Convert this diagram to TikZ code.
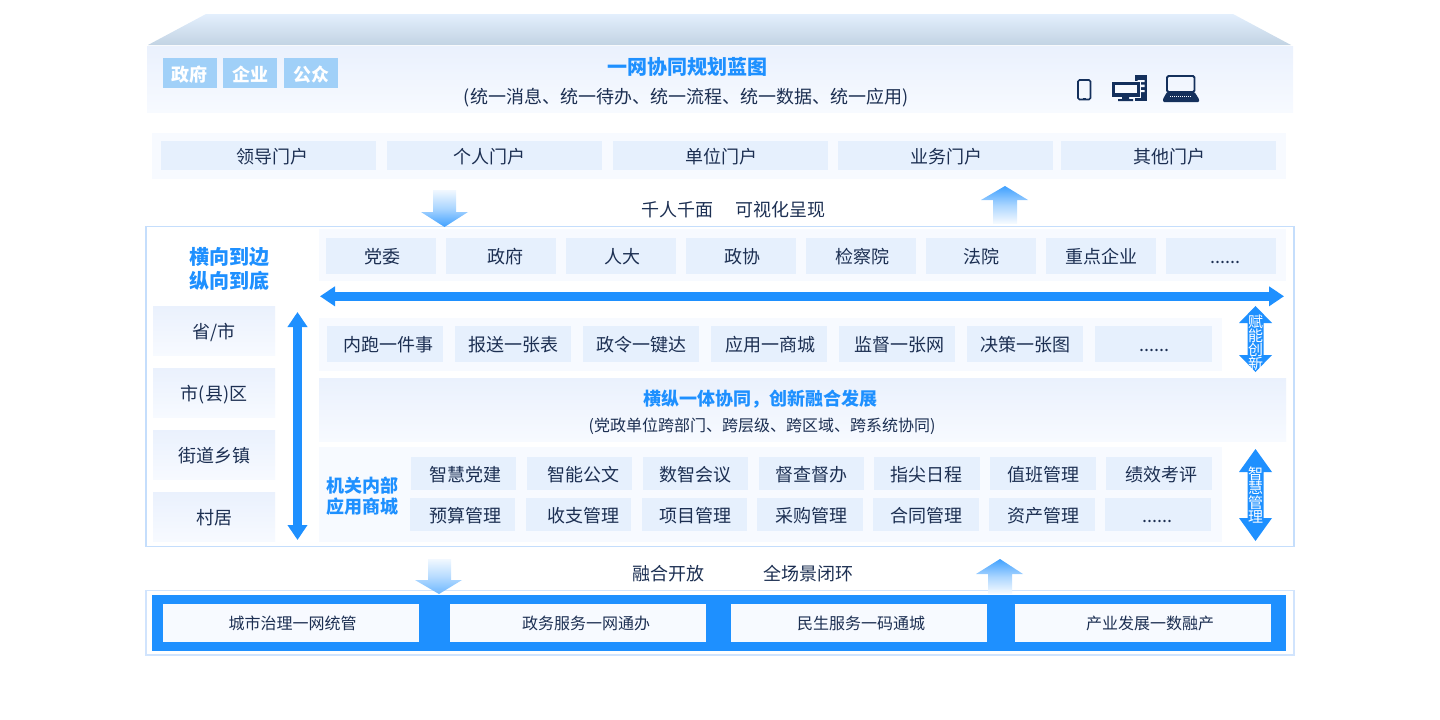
\documentclass[tikz,border=0pt]{standalone}
\usepackage{fontspec}
\setmainfont{Noto Sans CJK SC}
\usetikzlibrary{calc, arrows.meta}

\definecolor{inkblue}{HTML}{1C2F52}
\definecolor{iconblue}{HTML}{14305C}
\definecolor{mainblue}{HTML}{1E90FF}
\definecolor{cellblue}{HTML}{E6F0FD}
\definecolor{stripblue}{HTML}{F7FAFF}
\definecolor{bandblue}{HTML}{EAF1FD}
\definecolor{frameblue}{HTML}{C5DEFC}
\definecolor{tagblue}{HTML}{A0D0F8}
\definecolor{rooftop}{HTML}{E3EFFD}
\definecolor{roofbase}{HTML}{C2D3E3}
\newcommand{\moredots}{......}

\tikzset{
  cell/.style={fill=cellblue, inner sep=0pt, text=inkblue, text height=17pt, text depth=1.4pt, font=\fontsize{18}{20}\selectfont},
  whitecell/.style={fill=stripblue, inner sep=0pt, text=inkblue, text height=15pt, text depth=1.4pt, font=\fontsize{16}{18}\selectfont, minimum width=256pt, minimum height=38pt},
  levelcell/.style={top color=bandblue, bottom color=stripblue, inner sep=0pt, text=inkblue, text height=17.5pt, text depth=0.9pt, font=\fontsize{18}{20}\selectfont, minimum width=122pt, minimum height=49pt},
  tagcell/.style={fill=tagblue, inner sep=0pt, text=white, text height=17.5pt, text depth=0.9pt, font=\fontsize{18}{20}\selectfont\bfseries, minimum width=54pt, minimum height=30pt},
  plain/.style={inner sep=0pt, text=inkblue, text height=17pt, text depth=1.4pt, font=\fontsize{18}{20}\selectfont},
  smallplain/.style={inner sep=0pt, text=inkblue, text height=15pt, text depth=1.4pt, font=\fontsize{16}{18}\selectfont},
  headline/.style={inner sep=0pt, text=mainblue, font=\fontsize{18}{21}\selectfont\bfseries, align=center},
  sidetext/.style={inner sep=0pt, text=white, font=\fontsize{15}{14.1}\selectfont, align=center},
  bigarrow/.style={draw=mainblue, line width=9.5pt, {Triangle[length=15pt,width=19pt]}-{Triangle[length=15pt,width=19pt]}},
}

\begin{document}
\begin{tikzpicture}[x=1pt, y=-1pt]
  \useasboundingbox (0,0) rectangle (1440,720);
  % roof
  \shade[top color=rooftop, bottom color=roofbase] (206,14) -- (1233,14) -- (1291,45) -- (148,45) -- cycle;
  \shade[top color=bandblue, bottom color=stripblue] (147,46) rectangle (1293,112);
  \node[tagcell] (tagGov) at (189.5,73) {政府};
  \node[tagcell] (tagFirm) at (250,73) {企业};
  \node[tagcell] (tagPublic) at (311,73) {公众};
  \node[headline, font=\fontsize{20}{24}\selectfont\bfseries] (blueprint) at (687,66.5) {一网协同规划蓝图};
  \node[plain] (blueprintSub) at (686,95.5) {(统一消息、统一待办、统一流程、统一数据、统一应用)};
  % phone
  \draw[iconblue, line width=1.6pt, rounded corners=1.5pt] (1078,80) rectangle (1090.5,99.5);
  \draw[iconblue, line width=1pt] (1082.5,98.4) -- (1086,98.4);
  % desktop
  \fill[iconblue] (1135,75) rectangle (1147,101);
  \fill[stripblue] (1137.5,80) rectangle (1144.5,82) (1137.5,84.5) rectangle (1144.5,87) (1141,90) rectangle (1144.5,92);
  \draw[stripblue, fill=iconblue, line width=1pt] (1111,81) rectangle (1140,97);
  \fill[stripblue] (1115,84.5) rectangle (1137,93);
  \fill[iconblue] (1122,97) rectangle (1129,99) (1118,99) rectangle (1133,101);
  % laptop
  \draw[iconblue, line width=1.8pt, rounded corners=1.5pt] (1167,76) rectangle (1194.5,92);
  \fill[iconblue, rounded corners=1pt] (1167,92) -- (1194.5,92) -- (1199,99) -- (1199,102) -- (1163,102) -- (1163,99) -- cycle;
  \draw[stripblue, line width=1pt, densely dotted] (1170,96.5) -- (1192,96.5);
  % portals
  \fill[stripblue] (152,133) rectangle (1286,179);
  \foreach \name/\xc/\tx/\txt in {pa/268.5/272.5/领导门户, pb/494.5/489/个人门户, pc/720/721/单位门户, pd/945.5/946/业务门户, pe/1168.5/1169/其他门户} {
    \pgfmathsetmacro{\off}{2*(\tx-\xc)}
    \node[cell, minimum width=215pt, minimum height=29pt] (\name) at (\xc,155.5) {\hspace*{\off pt}\txt};
  }
  \node[plain] (faces) at (677,209) {千人千面};
  \node[plain] (visual) at (780,209) {可视化呈现};
  % main frame
  \draw[frameblue, fill=white, line width=1.3pt] (146,226.5) rectangle (1294,546.5);
  \fill[stripblue] (319,229) rectangle (1286,281);
  \foreach \name/\xc/\tx/\txt in {oa/381/382/党委, ob/501/505/政府, oc/621/622/人大, od/741/742/政协, oe/861/862/检察院, of/981/981/法院, og/1101/1101.5/重点企业, oh/1221/1225/\moredots} {
    \pgfmathsetmacro{\off}{2*(\tx-\xc)}
    \node[cell, minimum width=110pt, minimum height=36pt] (\name) at (\xc,256) {\hspace*{\off pt}\txt};
  }
  \node[headline, font=\fontsize{20}{24}\selectfont\bfseries] (reach) at (229,268.5) {横向到边\\纵向到底};
  \foreach \name/\yc/\txt in {la/330.5/{省/市}, lb/392.5/市(县)区, lc/454.5/街道乡镇, ld/516.5/村居}
    \node[levelcell] (\name) at (214,\yc) {\txt};
  \coordinate (hl) at (320,296.3);
  \coordinate (hr) at (1284,296.3);
  \coordinate (vt) at (297.5,312);
  \coordinate (vb) at (297.5,540);
  \draw[bigarrow] (hl) -- (hr);
  \draw[bigarrow] (vt) -- (vb);
  % services
  \fill[stripblue] (319,318) rectangle (1222,371);
  \foreach \name/\xc/\tx/\txt in {sa/385/388/内跑一件事, sb/513/513/报送一张表, sc/641/641/政令一键达, sd/769/770/应用一商城, se/897/899/监督一张网, sf/1025/1025/决策一张图, sg/1153.5/1154.5/\moredots} {
    \pgfmathsetmacro{\off}{2*(\tx-\xc)}
    \node[cell, minimum width=116.5pt, minimum height=36pt] (\name) at (\xc,344) {\hspace*{\off pt}\txt};
  }
  % band
  \shade[top color=bandblue, bottom color=stripblue] (319,378) rectangle (1286,441);
  \node[headline] (bandTitle) at (760,399.5) {横纵一体协同，创新融合发展};
  \node[smallplain] (bandSub) at (762,425) {(党政单位跨部门、跨层级、跨区域、跨系统协同)};
  % inner apps
  \fill[stripblue] (319,447) rectangle (1222,542);
  \node[headline] (innerApps) at (362,496.3) {机关内部\\应用商城};
  \foreach \name/\xc/\tx/\txt in {ra/463.5/465/智慧党建, rb/579.5/583.5/智能公文, rc/695.5/695/数智会议, rd/811.5/811/督查督办, re/927/926/指尖日程, rf/1043/1043/值班管理, rg/1159/1161/绩效考评} {
    \pgfmathsetmacro{\off}{2*(\tx-\xc)}
    \node[cell, minimum width=105.5pt, minimum height=33pt] (\name) at (\xc,473.5) {\hspace*{\off pt}\txt};
  }
  \foreach \name/\xc/\tx/\txt in {ta/462.5/465/预算管理, tb/578.5/583.5/收支管理, tc/694.5/695/项目管理, td/810/811/采购管理, te/926/926/合同管理, tf/1042/1043/资产管理, tg/1158/1157/\moredots} {
    \pgfmathsetmacro{\off}{2*(\tx-\xc)}
    \node[cell, minimum width=105.5pt, minimum height=33pt] (\name) at (\xc,514.5) {\hspace*{\off pt}\txt};
  }
  % side arrows
  \fill[mainblue] (1255.5,306) -- (1272,323) -- (1263.5,323) -- (1263.5,355) -- (1272,355) -- (1255.5,372) -- (1239,355) -- (1247.5,355) -- (1247.5,323) -- (1239,323) -- cycle;
  \node[sidetext] (enable) at (1255.5,343) {赋\\能\\创\\新};
  \fill[mainblue] (1255.5,449) -- (1272,472) -- (1263.5,472) -- (1263.5,518) -- (1272,518) -- (1255.5,541) -- (1239,518) -- (1247.5,518) -- (1247.5,472) -- (1239,472) -- cycle;
  \node[sidetext] (manage) at (1255.5,495) {智\\慧\\管\\理};
  % bottom frame
  \node[plain] (fusion) at (668,573) {融合开放};
  \node[plain] (closed) at (808,573) {全场景闭环};
  \draw[frameblue!80!white, fill=white, line width=1.3pt] (146,590.5) rectangle (1294,655);
  \fill[mainblue] (152,595) rectangle (1286,651);
  \foreach \name/\xc/\tx/\txt in {ba/291/292.5/城市治理一网统管, bb/578/586/政务服务一网通办, bc/859/861/民生服务一码通城, bd/1142.5/1150/产业发展一数融产} {
    \pgfmathsetmacro{\off}{2*(\tx-\xc)}
    \node[whitecell] (\name) at (\xc,623) {\hspace*{\off pt}\txt};
  }
  % gradient arrows
  \shade[top color=mainblue!6!white, bottom color=mainblue!85!white, middle color=mainblue!38!white] (433,190) -- (456,190) -- (456,212) -- (468,212) -- (444.5,227) -- (421,212) -- (433,212) -- cycle;
  \shade[top color=mainblue!85!white, bottom color=mainblue!3!white, middle color=mainblue!38!white] (1005,186) -- (1028,200) -- (1017,200) -- (1017,224) -- (993,224) -- (993,200) -- (981,200) -- cycle;
  \shade[top color=mainblue!6!white, bottom color=mainblue!65!white, middle color=mainblue!32!white] (428,559) -- (451,559) -- (451,580) -- (462,580) -- (439,594) -- (415,580) -- (428,580) -- cycle;
  \shade[top color=mainblue!85!white, bottom color=mainblue!3!white, middle color=mainblue!38!white] (1000,559) -- (1023,574) -- (1012,574) -- (1012,594) -- (988,594) -- (988,574) -- (976,574) -- cycle;
\end{tikzpicture}
\end{document}
